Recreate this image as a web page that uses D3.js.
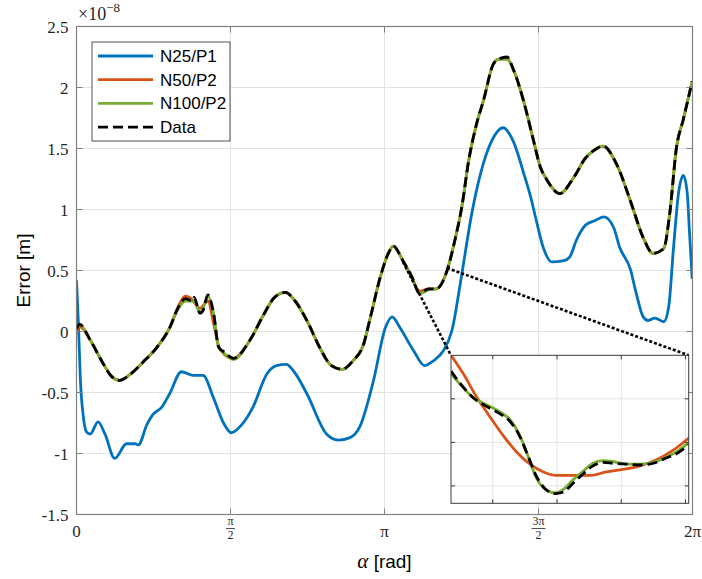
<!DOCTYPE html>
<html>
<head>
<meta charset="utf-8">
<script src="https://cdn.jsdelivr.net/npm/d3@7"></script>
<style>
   body { margin: 0; background: #fff; }
   svg { display: block; }
   .ticklab { font-family: "Liberation Serif", serif; font-size: 17px; fill: #262626; }
   .frac { font-family: "Liberation Serif", serif; font-size: 12px; fill: #262626; }
   .sans { font-family: "Liberation Sans", Arial, sans-serif; fill: #000; }
</style>
</head>
<body>
<div id="viz"></div>
<script>

var width = 702;
var height = 579;

// Data (errors in units of 1e-8 m) //

var alpha = [0.00, 0.03, 0.14, 0.27, 0.36, 0.44, 0.55, 0.68, 0.82, 0.95,
   1.04, 1.11, 1.18, 1.20, 1.26, 1.29, 1.34, 1.40, 1.45, 1.51,
   1.60, 1.77, 1.91, 2.02, 2.13, 2.23, 2.35, 2.48, 2.60, 2.71,
   2.82, 2.93, 2.99, 3.10, 3.18, 3.23, 3.33, 3.42, 3.50, 3.59,
   3.67, 3.78, 3.86, 3.93, 4.00, 4.08, 4.15, 4.25, 4.30, 4.39,
   4.46, 4.56, 4.66, 4.73, 4.80, 4.93, 5.07, 5.19, 5.27, 5.37,
   5.51, 5.65, 5.78, 5.88, 5.99, 6.05, 6.12, 6.19, 6.28];

var dataErr = [0.02, 0.06, -0.07, -0.26, -0.37, -0.40, -0.35, -0.25, -0.13, 0.03,
   0.20, 0.27, 0.25, 0.28, 0.15, 0.17, 0.30, 0.14, -0.13, -0.17,
   -0.22, -0.07, 0.14, 0.28, 0.32, 0.25, 0.09, -0.13, -0.28, -0.31,
   -0.24, -0.10, 0.09, 0.45, 0.64, 0.70, 0.58, 0.45, 0.31, 0.35,
   0.35, 0.50, 0.75, 1.02, 1.40, 1.70, 1.89, 2.19, 2.23, 2.25,
   2.14, 1.89, 1.57, 1.35, 1.24, 1.13, 1.26, 1.42, 1.48, 1.52,
   1.37, 1.07, 0.77, 0.64, 0.68, 0.96, 1.51, 1.74, 2.05];

var n50Err = [0.00, 0.04, -0.07, -0.26, -0.37, -0.40, -0.35, -0.25, -0.13, 0.03,
   0.21, 0.29, 0.26, 0.24, 0.19, 0.21, 0.25, 0.06, -0.12, -0.19,
   -0.22, -0.07, 0.14, 0.28, 0.32, 0.25, 0.09, -0.13, -0.28, -0.31,
   -0.24, -0.10, 0.09, 0.45, 0.64, 0.70, 0.58, 0.44, 0.33, 0.35,
   0.35, 0.50, 0.75, 1.02, 1.40, 1.70, 1.89, 2.19, 2.23, 2.24,
   2.14, 1.89, 1.57, 1.35, 1.24, 1.13, 1.26, 1.42, 1.48, 1.52,
   1.37, 1.07, 0.77, 0.64, 0.68, 0.96, 1.51, 1.74, 2.05];

var n100Err = [0.03, 0.06, -0.07, -0.26, -0.37, -0.40, -0.35, -0.25, -0.13, 0.03,
   0.19, 0.25, 0.25, 0.25, 0.15, 0.19, 0.29, 0.14, -0.13, -0.18,
   -0.23, -0.07, 0.14, 0.28, 0.32, 0.25, 0.09, -0.13, -0.28, -0.31,
   -0.24, -0.10, 0.09, 0.45, 0.64, 0.70, 0.58, 0.45, 0.31, 0.34,
   0.35, 0.50, 0.75, 1.02, 1.40, 1.70, 1.89, 2.19, 2.23, 2.23,
   2.14, 1.89, 1.57, 1.35, 1.24, 1.13, 1.26, 1.42, 1.48, 1.52,
   1.37, 1.07, 0.77, 0.64, 0.68, 0.96, 1.51, 1.74, 2.05];

var alphaN25 = [0.00, 0.02, 0.04, 0.07, 0.10, 0.14, 0.22, 0.29, 0.39, 0.51,
   0.60, 0.63, 0.72, 0.78, 0.87, 0.95, 1.07, 1.19, 1.29, 1.40,
   1.50, 1.58, 1.69, 1.80, 1.94, 2.04, 2.14, 2.21, 2.35, 2.55,
   2.67, 2.79, 2.89, 3.03, 3.15, 3.22, 3.30, 3.44, 3.55, 3.64,
   3.74, 3.83, 3.93, 4.03, 4.12, 4.24, 4.35, 4.46, 4.56, 4.63,
   4.69, 4.76, 4.85, 4.97, 5.03, 5.10, 5.19, 5.29, 5.38, 5.48,
   5.54, 5.65, 5.71, 5.78, 5.83, 5.90, 5.99, 6.04, 6.09, 6.14,
   6.19, 6.23, 6.25, 6.28];

var n25Err = [0.42, 0.05, -0.40, -0.70, -0.82, -0.84, -0.74, -0.84, -1.04, -0.92,
   -0.92, -0.93, -0.76, -0.68, -0.62, -0.51, -0.33, -0.36, -0.36, -0.55,
   -0.75, -0.83, -0.76, -0.62, -0.35, -0.28, -0.27, -0.32, -0.51, -0.84,
   -0.89, -0.87, -0.78, -0.40, 0.03, 0.12, 0.03, -0.16, -0.28, -0.24,
   -0.16, 0.01, 0.47, 0.96, 1.29, 1.57, 1.67, 1.55, 1.30, 1.11,
   0.91, 0.69, 0.57, 0.58, 0.61, 0.75, 0.87, 0.91, 0.94, 0.85,
   0.69, 0.51, 0.31, 0.12, 0.09, 0.11, 0.08, 0.20, 0.69, 1.13,
   1.28, 1.13, 0.85, 0.43];

// Inset (zoomed view) //

var insetAlphaN50 = [3.335, 3.354, 3.375, 3.396, 3.416, 3.437, 3.458, 3.479, 3.499,
   3.525, 3.551, 3.577, 3.603, 3.629, 3.655, 3.681, 3.705];
var insetN50 = [0.450, 0.429, 0.402, 0.379, 0.358, 0.339, 0.325, 0.316, 0.312,
   0.312, 0.312, 0.316, 0.319, 0.323, 0.330, 0.341, 0.355];

var insetAlpha = [3.335, 3.349, 3.370, 3.391, 3.411, 3.427, 3.442, 3.455, 3.468, 3.484,
   3.497, 3.510, 3.525, 3.541, 3.556, 3.572, 3.587, 3.608, 3.629, 3.650,
   3.670, 3.686, 3.705];
var insetData = [0.432, 0.418, 0.401, 0.391, 0.383, 0.374, 0.357, 0.334, 0.311, 0.295,
   0.291, 0.293, 0.303, 0.314, 0.323, 0.327, 0.326, 0.325, 0.324, 0.326,
   0.332, 0.337, 0.347];
var insetN100 = [0.429, 0.417, 0.401, 0.393, 0.385, 0.376, 0.358, 0.334, 0.309, 0.295,
   0.292, 0.296, 0.307, 0.317, 0.326, 0.329, 0.328, 0.325, 0.325, 0.327,
   0.333, 0.339, 0.350];

var insetXTicks = [3.4, 3.5, 3.6, 3.7];
var insetYTicks = [0.30, 0.35, 0.40];
var zoomAnchors = [[3.33, 0.57], [3.78, 0.52]];

// Ticks and legend //

var yTicks = [-1.5, -1, -0.5, 0, 0.5, 1, 1.5, 2, 2.5];
var yTickLabels = ["-1.5", "-1", "-0.5", "0", "0.5", "1", "1.5", "2", "2.5"];
var xTicks = [0, Math.PI / 2, Math.PI, 3 * Math.PI / 2, 2 * Math.PI];
var xTickNum = ["0", "\u03c0", "\u03c0", "3\u03c0", "2\u03c0"];
var xTickDen = ["", "2", "", "2", ""];

var seriesNames = ["N25/P1", "N50/P2", "N100/P2", "Data"];
var seriesColors = ["#0072BD", "#D95319", "#77AC30", "#000000"];
var seriesDash = [null, null, null, "10,5"];

var svg = d3.select("#viz").append("svg")
   .attr("width", width)
   .attr("height", height)
   .style("background", "#fff");

var x = d3.scaleLinear().domain([0, 2 * Math.PI]).range([76.5, 692.5]);
var y = d3.scaleLinear().domain([-1.5, 2.5]).range([514.5, 26.5]);

var xi = d3.scaleLinear().domain([3.335, 3.705]).range([451, 688.7]);
var yi = d3.scaleLinear().domain([0.28, 0.45]).range([503.3, 355.3]);

var axisColor = "#808080";
var gridColor = "#e3e3e3";
var lw = 2.8;

svg.append("clipPath").attr("id", "clipMain")
   .append("rect")
   .attr("x", x.range()[0]).attr("y", y.range()[1])
   .attr("width", x.range()[1] - x.range()[0])
   .attr("height", y.range()[0] - y.range()[1]);

svg.append("clipPath").attr("id", "clipInset")
   .append("rect")
   .attr("x", xi.range()[0]).attr("y", yi.range()[1])
   .attr("width", xi.range()[1] - xi.range()[0])
   .attr("height", yi.range()[0] - yi.range()[1]);

// Grid //

svg.append("g").selectAll("line").data(xTicks).enter().append("line")
   .attr("x1", function(d) { return x(d); })
   .attr("x2", function(d) { return x(d); })
   .attr("y1", y.range()[0]).attr("y2", y.range()[1])
   .style("stroke", gridColor);

svg.append("g").selectAll("line").data(yTicks).enter().append("line")
   .attr("y1", function(d) { return y(d); })
   .attr("y2", function(d) { return y(d); })
   .attr("x1", x.range()[0]).attr("x2", x.range()[1])
   .style("stroke", gridColor);

// Curves //

function drawCurve(g, xs, ys, sx, sy, color, dash, w) {
   var line = d3.line()
      .x(function(d) { return sx(d[0]); })
      .y(function(d) { return sy(d[1]); })
      .curve(d3.curveMonotoneX);
   var pts = xs.map(function(v, i) { return [v, ys[i]]; });
   g.append("path")
      .attr("d", line(pts))
      .style("fill", "none")
      .style("stroke", color)
      .style("stroke-width", w)
      .style("stroke-linejoin", "round")
      .style("stroke-dasharray", dash);
}

var plot = svg.append("g").attr("clip-path", "url(#clipMain)");
drawCurve(plot, alphaN25, n25Err, x, y, seriesColors[0], null, lw);
drawCurve(plot, alpha, n50Err, x, y, seriesColors[1], null, lw);
drawCurve(plot, alpha, n100Err, x, y, seriesColors[2], null, lw);
drawCurve(plot, alpha, dataErr, x, y, seriesColors[3], seriesDash[3], lw);

// Zoom connectors //

var corners = [[xi.range()[0], yi.range()[1]], [xi.range()[1], yi.range()[1]]];
svg.append("g").selectAll("line").data(zoomAnchors).enter().append("line")
   .attr("x1", function(d) { return x(d[0]); })
   .attr("y1", function(d) { return y(d[1]); })
   .attr("x2", function(d, i) { return corners[i][0]; })
   .attr("y2", function(d, i) { return corners[i][1]; })
   .style("stroke", "#000")
   .style("stroke-width", 2.6)
   .style("stroke-dasharray", "3,2");

// Main axes box and ticks //

svg.append("rect")
   .attr("x", x.range()[0]).attr("y", y.range()[1])
   .attr("width", x.range()[1] - x.range()[0])
   .attr("height", y.range()[0] - y.range()[1])
   .style("fill", "none")
   .style("stroke", axisColor)
   .style("stroke-width", 1.2);

var tickLen = 6;
var ticks = svg.append("g").style("stroke", axisColor).style("stroke-width", 1);
yTicks.forEach(function(d) {
   ticks.append("line").attr("x1", x.range()[0]).attr("x2", x.range()[0] + tickLen)
      .attr("y1", y(d)).attr("y2", y(d));
   ticks.append("line").attr("x1", x.range()[1]).attr("x2", x.range()[1] - tickLen)
      .attr("y1", y(d)).attr("y2", y(d));
});
xTicks.forEach(function(d) {
   ticks.append("line").attr("y1", y.range()[0]).attr("y2", y.range()[0] - tickLen)
      .attr("x1", x(d)).attr("x2", x(d));
   ticks.append("line").attr("y1", y.range()[1]).attr("y2", y.range()[1] + tickLen)
      .attr("x1", x(d)).attr("x2", x(d));
});

// Tick labels //

svg.append("g").selectAll("text").data(yTicks).enter().append("text")
   .attr("class", "ticklab")
   .attr("x", x.range()[0] - 8)
   .attr("y", function(d) { return y(d) + 6; })
   .attr("text-anchor", "end")
   .text(function(d, i) { return yTickLabels[i]; });

xTicks.forEach(function(d, i) {
   if (xTickDen[i] == "") {
      svg.append("text").attr("class", "ticklab")
         .attr("x", x(d)).attr("y", 537)
         .attr("text-anchor", "middle")
         .text(xTickNum[i]);
   } else {
      svg.append("text").attr("class", "frac")
         .attr("x", x(d)).attr("y", 525)
         .attr("text-anchor", "middle")
         .text(xTickNum[i]);
      svg.append("line")
         .attr("x1", x(d) - (xTickNum[i].length > 1 ? 7 : 4.5))
         .attr("x2", x(d) + (xTickNum[i].length > 1 ? 7 : 4.5))
         .attr("y1", 528.5).attr("y2", 528.5)
         .style("stroke", "#262626").style("stroke-width", 0.8);
      svg.append("text").attr("class", "frac")
         .attr("x", x(d)).attr("y", 539)
         .attr("text-anchor", "middle")
         .text(xTickDen[i]);
   }
});

// Exponent //

var expo = svg.append("text").attr("class", "ticklab")
   .attr("x", 78).attr("y", 20)
   .style("font-size", "18px");
expo.append("tspan").text("\u00d710");
expo.append("tspan").attr("dy", -8).style("font-size", "13px").text("\u22128");

// Axis titles //

svg.append("text").attr("class", "sans")
   .attr("transform", "translate(30," + ((y.range()[0] + y.range()[1]) / 2) + ") rotate(-90)")
   .attr("text-anchor", "middle")
   .style("font-size", "19px")
   .text("Error [m]");

var xlab = svg.append("text")
   .attr("x", (x.range()[0] + x.range()[1]) / 2)
   .attr("y", 568)
   .attr("text-anchor", "middle")
   .style("font-size", "19px");
xlab.append("tspan")
   .style("font-family", "Liberation Serif, serif")
   .style("font-style", "italic")
   .style("font-size", "21px")
   .text("\u03b1 ");
xlab.append("tspan")
   .style("font-family", "Liberation Sans, Arial, sans-serif")
   .text("[rad]");

// Inset //

svg.append("rect")
   .attr("x", xi.range()[0]).attr("y", yi.range()[1])
   .attr("width", xi.range()[1] - xi.range()[0])
   .attr("height", yi.range()[0] - yi.range()[1])
   .style("fill", "#fff");

svg.append("g").selectAll("line").data(insetXTicks).enter().append("line")
   .attr("x1", function(d) { return xi(d); })
   .attr("x2", function(d) { return xi(d); })
   .attr("y1", yi.range()[0]).attr("y2", yi.range()[1])
   .style("stroke", gridColor);

svg.append("g").selectAll("line").data(insetYTicks).enter().append("line")
   .attr("y1", function(d) { return yi(d); })
   .attr("y2", function(d) { return yi(d); })
   .attr("x1", xi.range()[0]).attr("x2", xi.range()[1])
   .style("stroke", gridColor);

var inset = svg.append("g").attr("clip-path", "url(#clipInset)");
drawCurve(inset, insetAlphaN50, insetN50, xi, yi, seriesColors[1], null, lw);
drawCurve(inset, insetAlpha, insetN100, xi, yi, seriesColors[2], null, lw);
drawCurve(inset, insetAlpha, insetData, xi, yi, seriesColors[3], seriesDash[3], lw);

svg.append("rect")
   .attr("x", xi.range()[0]).attr("y", yi.range()[1])
   .attr("width", xi.range()[1] - xi.range()[0])
   .attr("height", yi.range()[0] - yi.range()[1])
   .style("fill", "none")
   .style("stroke", "#3a3a3a")
   .style("stroke-width", 1);

var iticks = svg.append("g").style("stroke", "#3a3a3a").style("stroke-width", 1);
insetYTicks.forEach(function(d) {
   iticks.append("line").attr("x1", xi.range()[0]).attr("x2", xi.range()[0] + 4)
      .attr("y1", yi(d)).attr("y2", yi(d));
   iticks.append("line").attr("x1", xi.range()[1]).attr("x2", xi.range()[1] - 4)
      .attr("y1", yi(d)).attr("y2", yi(d));
});
insetXTicks.forEach(function(d) {
   iticks.append("line").attr("y1", yi.range()[0]).attr("y2", yi.range()[0] - 4)
      .attr("x1", xi(d)).attr("x2", xi(d));
   iticks.append("line").attr("y1", yi.range()[1]).attr("y2", yi.range()[1] + 4)
      .attr("x1", xi(d)).attr("x2", xi(d));
});

// Legend //

var legend = svg.append("g").attr("transform", "translate(92,42)");
legend.append("rect")
   .attr("width", 138).attr("height", 99)
   .style("fill", "#fff")
   .style("stroke", "#262626")
   .style("stroke-width", 0.8);

seriesNames.forEach(function(name, i) {
   var yy = 14 + i * 23.7;
   legend.append("line")
      .attr("x1", 6).attr("x2", 61)
      .attr("y1", yy).attr("y2", yy)
      .style("stroke", seriesColors[i])
      .style("stroke-width", lw)
      .style("stroke-dasharray", seriesDash[i]);
   legend.append("text").attr("class", "sans")
      .attr("x", 68).attr("y", yy + 6)
      .style("font-size", "17px")
      .text(name);
});

</script>
</body>
</html>
